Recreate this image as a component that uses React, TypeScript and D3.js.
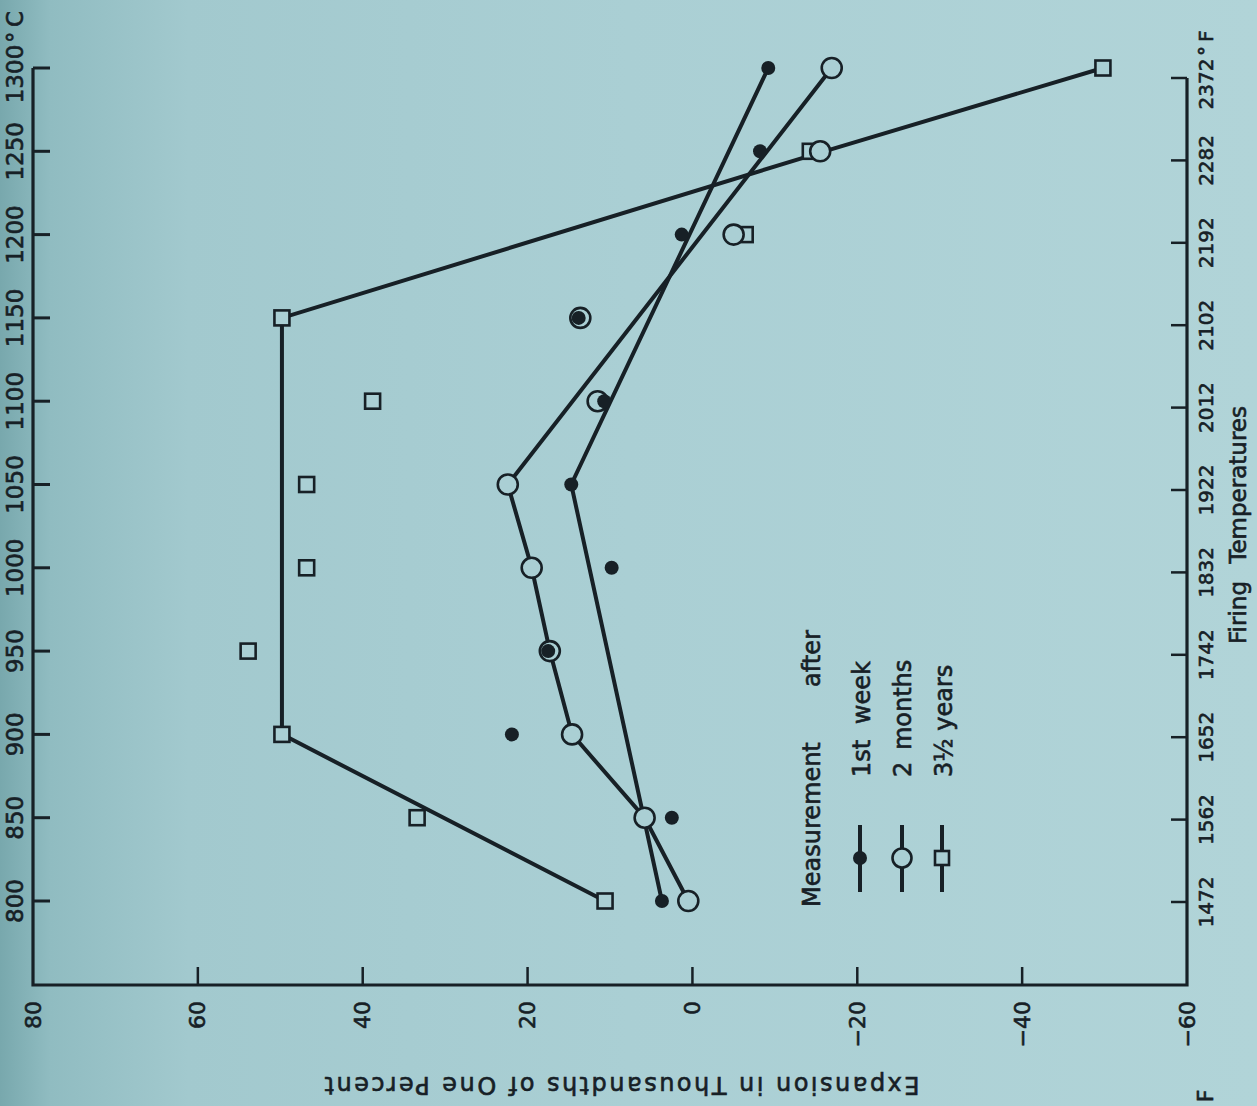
import React, { useEffect } from 'react';
import * as d3 from 'd3';

// firing temperature, degrees C (rows) and the matching Fahrenheit labels
const tempsC = [800, 850, 900, 950, 1000, 1050, 1100, 1150, 1200, 1250, 1300];
const tempsF = ['1472', '1562', '1652', '1742', '1832', '1922', '2012', '2102', '2192', '2282', '2372'];
const expansionTicks = [80, 60, 40, 20, 0, -20, -40, -60];

// expansion in thousandths of one percent, one value per temperature
const week1 = [3.7, 2.5, 21.9, 17.5, 9.8, 14.7, 10.7, 13.8, 1.3, -8.2, -9.2];
const months2 = [0.5, 5.8, 14.6, 17.3, 19.5, 22.4, 11.5, 13.6, -5.0, -15.5, -16.9];
const years35 = [10.6, 33.4, 49.8, 53.9, 46.8, 46.8, 38.8, 49.8, -6.4, -14.3, -49.8];

// hand drawn trend lines [tempC, expansion]
const week1Fit: [number, number][] = [[800, 3.7], [1050, 14.7], [1300, -9.2]];
const months2Fit: [number, number][] = [
  [800, 0.5], [850, 5.8], [900, 14.6], [950, 17.3], [1000, 19.5], [1050, 22.4], [1300, -16.9],
];
const years35Fit: [number, number][] = [[800, 10.6], [900, 49.8], [1150, 49.8], [1250, -16], [1300, -49.8]];

const INK = '#172026';
const BG = '#aacfd4';
const FONT = '"DejaVu Sans", sans-serif';

const rot = (x: number, y: number, a = -90) => `translate(${x},${y}) rotate(${a})`;

export default function App() {
  useEffect(() => {
    document.body.style.margin = '0';
  }, []);

  const x = d3.scaleLinear().domain([80, -60]).range([33, 1187]);
  const y = d3.scaleLinear().domain([800, 1300]).range([901, 68]);
  const yF = d3.scaleLinear().domain([800, 1300]).range([902, 78]);
  const line = d3.line<[number, number]>().x(d => x(d[1])).y(d => y(d[0]));

  const bottom = 985;
  const fmt = (v: number) => (v < 0 ? `\u2212${-v}` : `${v}`);

  return (
    <svg width={1257} height={1106} style={{ display: 'block' }} fontFamily={FONT}>
      <defs>
        <linearGradient id="bg" x1="0" x2="1" y1="0" y2="0">
          <stop offset="0" stopColor="#78a8ad" />
          <stop offset="0.04" stopColor="#90bcc1" />
          <stop offset="0.15" stopColor="#a2c9ce" />
          <stop offset="0.5" stopColor="#aacfd4" />
          <stop offset="1" stopColor="#b1d4d8" />
        </linearGradient>
      </defs>
      <rect width={1257} height={1106} fill="url(#bg)" />

      {/* frame */}
      <path
        d={`M${x(80)},${y(1300)} V${bottom} H${x(-60)} V${yF(1300)}`}
        fill="none"
        stroke={INK}
        strokeWidth={3.2}
      />

      <g fill={INK} stroke={INK} strokeWidth={0.6}>
        {/* left (Celsius) labels */}
        {tempsC.map(t =>
          t === 1300 ? (
            <g key={`ll${t}`}>
              <text transform={rot(15, y(t) + 6)} textAnchor="middle" dominantBaseline="central" fontSize={23}>
                {t}
              </text>
              <text transform={rot(15, y(t) - 25)} textAnchor="start" dominantBaseline="central" fontSize={23}>
                {'\u00b0\u2009C'}
              </text>
            </g>
          ) : (
            <text key={`ll${t}`} transform={rot(15, y(t))} textAnchor="middle" dominantBaseline="central" fontSize={23}>
              {t}
            </text>
          )
        )}

        {/* right (Fahrenheit) labels */}
        {tempsC.map((t, i) => (
          <g key={`rl${t}`}>
            <text transform={rot(1206, yF(t) + (i === tempsC.length - 1 ? 6 : 0))} textAnchor="middle" dominantBaseline="central" fontSize={20}>
              {tempsF[i]}
            </text>
            {i === tempsC.length - 1 && (
              <text transform={rot(1206, yF(t) - 22)} textAnchor="start" dominantBaseline="central" fontSize={20}>
                {'\u00b0\u2009F'}
              </text>
            )}
          </g>
        ))}
        <text transform={rot(1238, 525)} textAnchor="middle" dominantBaseline="central" fontSize={23} wordSpacing={10}>
          Firing Temperatures
        </text>

        {/* bottom (expansion) labels */}
        {expansionTicks.map(v => (
          <text key={`bl${v}`} transform={rot(x(v), 1001)} textAnchor="end" dominantBaseline="central" fontSize={22}>
            {fmt(v)}
          </text>
        ))}
        <text transform={rot(622, 1077, 180)} textAnchor="middle" fontSize={24} textLength={595} lengthAdjust="spacing">
          Expansion in Thousandths of One Percent
        </text>
        <text transform={rot(1205, 1096)} textAnchor="middle" dominantBaseline="central" fontSize={22}>
          F
        </text>
      </g>

      {/* ticks */}
      {tempsC.map(t => (
        <line key={`lt${t}`} x1={x(80)} x2={x(80) + 17} y1={y(t)} y2={y(t)} stroke={INK} strokeWidth={3} />
      ))}
      {tempsC.map(t => (
        <line key={`rt${t}`} x1={x(-60)} x2={x(-60) - 16} y1={yF(t)} y2={yF(t)} stroke={INK} strokeWidth={2.5} />
      ))}
      {expansionTicks.slice(1, -1).map(v => (
        <line key={`bt${v}`} x1={x(v)} x2={x(v)} y1={bottom} y2={bottom - 18} stroke={INK} strokeWidth={2.5} />
      ))}

      {/* trend lines */}
      <path d={line(years35Fit) || ''} fill="none" stroke={INK} strokeWidth={4} />
      <path d={line(months2Fit) || ''} fill="none" stroke={INK} strokeWidth={4} />
      <path d={line(week1Fit) || ''} fill="none" stroke={INK} strokeWidth={4} />

      {/* markers */}
      {tempsC.map((t, i) => (
        <rect
          key={`sq${t}`}
          x={x(years35[i]) - 7.5}
          y={y(t) - 7.5}
          width={15}
          height={15}
          fill={BG}
          stroke={INK}
          strokeWidth={2.6}
        />
      ))}
      {tempsC.map((t, i) => (
        <circle key={`oc${t}`} cx={x(months2[i])} cy={y(t)} r={10} fill={BG} stroke={INK} strokeWidth={2.6} />
      ))}
      {tempsC.map((t, i) => (
        <circle key={`fc${t}`} cx={x(week1[i])} cy={y(t)} r={7} fill={INK} />
      ))}

      {/* legend */}
      <g fill={INK} fontSize={24}>
        <g stroke={INK} strokeWidth={0.6}>
          <text transform={rot(812, 907)} dominantBaseline="central">Measurement</text>
          <text transform={rot(812, 687)} dominantBaseline="central">after</text>
          <text transform={rot(862, 777)} dominantBaseline="central" wordSpacing={8}>1st week</text>
          <text transform={rot(903, 777)} dominantBaseline="central" wordSpacing={4}>2 months</text>
          <text transform={rot(944, 777)} dominantBaseline="central">3{'\u00bd'} years</text>
        </g>

        <line x1={860} x2={860} y1={825} y2={892} stroke={INK} strokeWidth={4} />
        <circle cx={860} cy={858} r={7} fill={INK} />

        <line x1={902} x2={902} y1={825} y2={892} stroke={INK} strokeWidth={4} />
        <circle cx={902} cy={858} r={9.5} fill={BG} stroke={INK} strokeWidth={2.6} />

        <line x1={942} x2={942} y1={825} y2={892} stroke={INK} strokeWidth={4} />
        <rect x={935} y={851} width={14} height={14} fill={BG} stroke={INK} strokeWidth={2.6} />
      </g>
    </svg>
  );
}
